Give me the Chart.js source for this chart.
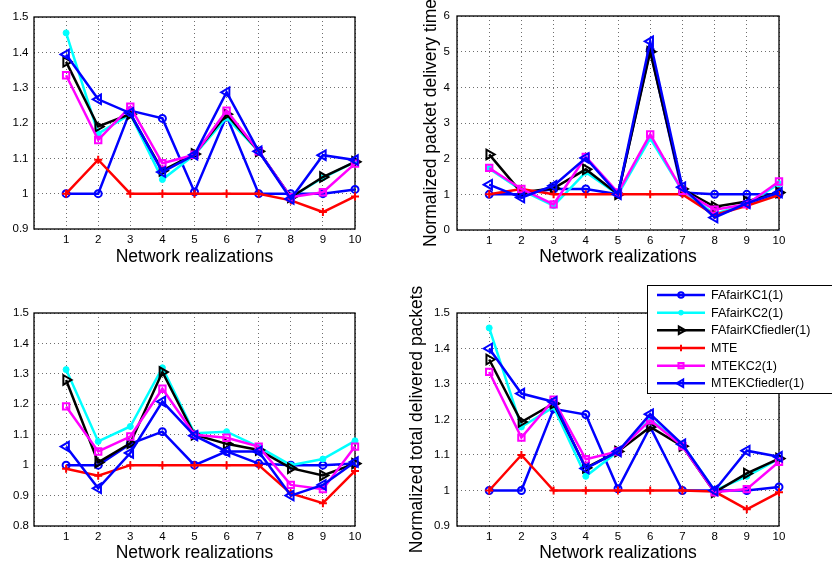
<!DOCTYPE html>
<html>
<head>
<meta charset="utf-8">
<style>
  body { margin: 0; background: #fff; width: 832px; height: 568px; overflow: hidden; position: relative; }
  canvas { position: absolute; }
</style>
</head>
<body>
<canvas id="tl" width="416" height="280" style="left:0;top:0"></canvas>
<canvas id="tr" width="416" height="280" style="left:416px;top:0"></canvas>
<canvas id="bl" width="416" height="288" style="left:0;top:280px"></canvas>
<canvas id="br" width="432" height="288" style="left:400px;top:280px"></canvas>

<script src="https://cdn.jsdelivr.net/npm/chart.js"></script>
<script>
const realizations = [1, 2, 3, 4, 5, 6, 7, 8, 9, 10];
const seriesNames = ['FAfairKC1(1)', 'FAfairKC2(1)', 'FAfairKCfiedler(1)', 'MTE', 'MTEKC2(1)', 'MTEKCfiedler(1)'];

// top left
const tlKC1 = [1.0, 1.0, 1.235, 1.213, 1.005, 1.22, 1.0, 1.0, 1.0, 1.012];
const tlKC2 = [1.455, 1.17, 1.225, 1.04, 1.11, 1.215, 1.12, 0.99, 1.045, 1.09];
const tlKCfiedler = [1.373, 1.19, 1.225, 1.065, 1.112, 1.225, 1.12, 0.99, 1.047, 1.09];
const tlMTE = [1.0, 1.096, 1.0, 1.0, 1.0, 1.0, 1.0, 0.981, 0.948, 0.992];
const tlMTEKC2 = [1.335, 1.152, 1.246, 1.086, 1.11, 1.235, 1.12, 0.99, 1.004, 1.085];
const tlMTEKCfiedler = [1.394, 1.267, 1.228, 1.061, 1.11, 1.287, 1.12, 0.985, 1.109, 1.095];

// top right: normalized packet delivery time
const trKC1 = [1.0, 1.0, 1.15, 1.15, 1.0, 5.05, 1.05, 1.0, 1.0, 1.0];
const trKC2 = [1.72, 1.12, 0.68, 1.62, 1.0, 2.57, 1.1, 0.45, 0.72, 1.3];
const trKCfiedler = [2.12, 1.05, 1.17, 1.7, 1.0, 5.0, 1.15, 0.65, 0.8, 1.05];
const trMTE = [1.0, 1.15, 1.0, 1.0, 1.0, 1.0, 1.0, 0.42, 0.68, 0.98];
const trMTEKC2 = [1.74, 1.15, 0.72, 2.05, 1.05, 2.68, 1.1, 0.57, 0.72, 1.36];
const trMTEKCfiedler = [1.27, 0.91, 1.24, 2.02, 1.0, 5.29, 1.2, 0.35, 0.75, 1.05];

// bottom left
const blKC1 = [1.0, 1.0, 1.07, 1.11, 1.0, 1.045, 1.005, 1.0, 1.0, 1.005];
const blKC2 = [1.314, 1.078, 1.127, 1.32, 1.105, 1.11, 1.06, 1.0, 1.02, 1.08];
const blKCfiedler = [1.28, 1.009, 1.072, 1.306, 1.1, 1.07, 1.05, 0.99, 0.966, 1.005];
const blMTE = [0.988, 0.965, 1.0, 1.0, 1.0, 1.0, 1.0, 0.907, 0.875, 0.981];
const blMTEKC2 = [1.193, 1.045, 1.094, 1.251, 1.1, 1.09, 1.061, 0.935, 0.921, 1.061];
const blMTEKCfiedler = [1.061, 0.924, 1.04, 1.209, 1.097, 1.045, 1.045, 0.9, 0.935, 1.01];

// bottom right: normalized total delivered packets
const brKC1 = [1.0, 1.0, 1.23, 1.214, 1.005, 1.179, 1.0, 1.0, 1.0, 1.01];
const brKC2 = [1.458, 1.179, 1.235, 1.04, 1.11, 1.2, 1.13, 1.0, 1.04, 1.09];
const brKCfiedler = [1.369, 1.193, 1.245, 1.064, 1.11, 1.179, 1.125, 0.995, 1.048, 1.09];
const brMTE = [1.0, 1.1, 1.0, 1.0, 1.0, 1.0, 1.0, 0.997, 0.947, 0.995];
const brMTEKC2 = [1.334, 1.149, 1.256, 1.088, 1.11, 1.198, 1.125, 0.995, 1.004, 1.081];
const brMTEKCfiedler = [1.4, 1.273, 1.25, 1.062, 1.11, 1.215, 1.13, 1.0, 1.112, 1.095];

const FONT = "'Liberation Sans', Arial, Helvetica, sans-serif";

// marker look per series (matlab style)
const seriesStyle = [
    { color: '#0000ff', pointStyle: 'circle', radius: 3.5, fill: 'rgba(0,0,0,0)', rotation: 0, pw: 2 },
    { color: '#00ffff', pointStyle: 'circle', radius: 3, fill: '#00ffff', rotation: 0, pw: 1 },
    { color: '#000000', pointStyle: 'triangle', radius: 5.5, fill: 'rgba(0,0,0,0)', rotation: 90, pw: 2 },
    { color: '#ff0000', pointStyle: 'cross', radius: 4, fill: 'rgba(0,0,0,0)', rotation: 0, pw: 2 },
    { color: '#ff00ff', pointStyle: 'rect', radius: 4.5, fill: 'rgba(0,0,0,0)', rotation: 0, pw: 2 },
    { color: '#0000ff', pointStyle: 'triangle', radius: 5.5, fill: 'rgba(0,0,0,0)', rotation: -90, pw: 2 },
];

const framePlugin = {
    id: 'frame',
    beforeDatasetsDraw(chart) {
        const { ctx, chartArea: a } = chart;
        ctx.save();
        ctx.setLineDash([]);
        ctx.strokeStyle = '#000';
        ctx.lineWidth = 1.3;
        ctx.strokeRect(a.left, a.top, a.right - a.left, a.bottom - a.top);
        ctx.restore();
    },
    afterDraw(chart, args, opts) {
        const { ctx, chartArea: a } = chart;
        ctx.save();
        if (opts.yTitle) {
            // drawn by hand: the title is longer than the axis and must not be squeezed
            ctx.translate(opts.yTitleX, (a.top + a.bottom) / 2);
            ctx.rotate(-Math.PI / 2);
            ctx.font = '17.5px ' + FONT;
            ctx.fillStyle = '#000';
            ctx.textAlign = 'center';
            ctx.textBaseline = 'middle';
            ctx.fillText(opts.yTitle, 0, 0);
            ctx.setTransform(1, 0, 0, 1, 0, 0);
        }
        if (opts.legend) {
            const lx = 247, ly = 5, rowH = 17.66;
            ctx.fillStyle = '#fff';
            ctx.fillRect(lx, ly, 300, 108);
            ctx.strokeStyle = '#000';
            ctx.lineWidth = 1;
            ctx.strokeRect(lx + 0.5, ly + 0.5, 300, 108);
            chart.data.datasets.forEach((ds, i) => {
                const y = ly + 10 + i * rowH;
                ctx.strokeStyle = ds.borderColor;
                ctx.lineWidth = 2.5;
                ctx.beginPath();
                ctx.moveTo(lx + 10, y);
                ctx.lineTo(lx + 58, y);
                ctx.stroke();
                ctx.fillStyle = ds.pointBackgroundColor;
                ctx.lineWidth = ds.pointBorderWidth;
                Chart.helpers.drawPoint(ctx, {
                    pointStyle: ds.pointStyle,
                    radius: ds.pointRadius * 0.8,
                    rotation: ds.pointRotation,
                    borderWidth: ds.pointBorderWidth
                }, lx + 34, y);
                ctx.fillStyle = '#000';
                ctx.font = '12.5px ' + FONT;
                ctx.textAlign = 'left';
                ctx.textBaseline = 'middle';
                ctx.fillText(ds.label, lx + 64, y + 0.5);
            });
        }
        ctx.restore();
    }
};

function makePlot(id, series, yMin, yMax, yStep, geo, frame) {
    const datasets = series.map((vals, i) => {
        const s = seriesStyle[i];
        return {
            label: seriesNames[i],
            data: realizations.map((x, k) => ({ x: x, y: vals[k] })),
            borderColor: s.color,
            backgroundColor: s.color,
            borderWidth: 2.5,
            tension: 0,
            fill: false,
            pointStyle: s.pointStyle,
            pointRadius: s.radius,
            pointRotation: s.rotation,
            pointBorderColor: s.color,
            pointBackgroundColor: s.fill,
            pointBorderWidth: s.pw,
            clip: false,
            order: series.length - 1 - i
        };
    });
    return new Chart(document.getElementById(id), {
        type: 'line',
        data: { datasets: datasets },
        plugins: [framePlugin],
        options: {
            responsive: false,
            animation: false,
            events: [],
            layout: { padding: { left: 0, top: geo.top, right: geo.right, bottom: 0 } },
            scales: {
                x: {
                    type: 'linear',
                    min: 0,
                    max: 10,
                    afterFit: (scale) => { scale.height = geo.xh; },
                    ticks: {
                        stepSize: 1,
                        autoSkip: false,
                        maxRotation: 0,
                        padding: 4,
                        color: '#000',
                        font: { family: FONT, size: 11.5 },
                        callback: (v) => (v === 0 ? '' : String(v))
                    },
                    grid: { color: '#6e6e6e', lineWidth: 1, drawTicks: false },
                    border: { display: false, dash: [1, 3] },
                    title: {
                        display: true,
                        text: 'Network realizations',
                        color: '#000',
                        font: { family: FONT, size: 17.5, lineHeight: 1 },
                        padding: { top: 0, bottom: geo.titleBottom }
                    }
                },
                y: {
                    min: yMin,
                    max: yMax,
                    afterFit: (scale) => { scale.width = geo.yw; },
                    ticks: {
                        stepSize: yStep,
                        padding: geo.yPad,
                        color: '#000',
                        font: { family: FONT, size: 11.5 },
                        callback: (v) => String(Math.round(v * 10) / 10)
                    },
                    grid: { color: '#6e6e6e', lineWidth: 1, drawTicks: false },
                    border: { display: false, dash: [1, 3] }
                }
            },
            plugins: {
                legend: { display: false },
                tooltip: { enabled: false },
                frame: frame
            }
        }
    });
}

makePlot('tl', [tlKC1, tlKC2, tlKCfiedler, tlMTE, tlMTEKC2, tlMTEKCfiedler], 0.9, 1.5, 0.1,
    { top: 17, right: 61, xh: 51, yw: 34, yPad: 5.5, titleBottom: 14.5 }, {});

makePlot('tr', [trKC1, trKC2, trKCfiedler, trMTE, trMTEKC2, trMTEKCfiedler], 0, 6, 1,
    { top: 16, right: 53, xh: 50, yw: 41, yPad: 7, titleBottom: 14.5 },
    { yTitle: 'Normalized packet delivery time', yTitleX: 15 });

makePlot('bl', [blKC1, blKC2, blKCfiedler, blMTE, blMTEKC2, blMTEKCfiedler], 0.8, 1.5, 0.1,
    { top: 33, right: 61, xh: 42, yw: 34, yPad: 5, titleBottom: 6.5 }, {});

makePlot('br', [brKC1, brKC2, brKCfiedler, brMTE, brMTEKC2, brMTEKCfiedler], 0.9, 1.5, 0.1,
    { top: 33, right: 53, xh: 42, yw: 57, yPad: 7, titleBottom: 6.5 },
    { yTitle: 'Normalized total delivered packets', yTitleX: 17, legend: true });
</script>
</body>
</html>
